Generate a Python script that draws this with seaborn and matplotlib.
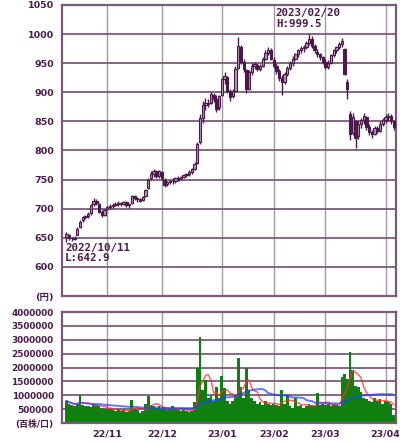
import numpy as np
import pandas as pd
import matplotlib
matplotlib.use("Agg")
import matplotlib.pyplot as plt
import seaborn as sns

sns.set_style("white")
plt.rcParams['font.family'] = ['DejaVu Sans', 'Noto Sans CJK JP']

# ---------------- data ----------------
holidays = ["2022-11-03", "2022-11-23", "2023-01-02", "2023-01-03",
            "2023-01-09", "2023-02-23", "2023-03-21"]
dates = pd.bdate_range("2022-10-11", "2023-04-06", freq="C", holidays=holidays)

opens = [652, 655, 649, 650, 655, 668, 680, 685, 688, 692, 708, 714, 708, 695, 690,
         699, 703, 705, 707, 708, 710, 708, 712, 706, 709, 721, 718, 716, 715, 721,
         735, 752, 760, 764, 756, 763, 750, 742, 746, 748, 747, 752, 751, 755, 758,
         760, 763, 768, 778, 815, 855, 878, 882, 882, 896, 888, 874, 895, 922, 926,
         902, 893, 903, 942, 978, 952, 938, 906, 935, 946, 947, 940, 945, 957, 968,
         973, 956, 946, 936, 925, 918, 932, 941, 950, 958, 965, 972, 976, 978, 985,
         992, 980, 970, 965, 960, 952, 944, 950, 964, 972, 977, 983, 975, 918, 862,
         830, 850, 825, 846, 852, 858, 840, 832, 828, 838, 834, 846, 852, 858, 860, 850]
highs = [660, 656, 652, 653, 668, 680, 688, 690, 694, 708, 718, 716, 709, 697, 700,
         705, 708, 710, 711, 713, 712, 714, 713, 710, 723, 724, 720, 719, 722, 734,
         752, 764, 768, 767, 766, 765, 752, 748, 750, 752, 754, 756, 757, 760, 762,
         766, 770, 780, 815, 862, 885, 890, 889, 900, 898, 895, 896, 925, 935, 928,
         905, 905, 945, 995, 982, 958, 940, 938, 950, 952, 950, 948, 960, 972, 978,
         976, 960, 950, 940, 930, 935, 945, 953, 962, 968, 975, 980, 982, 988, 999.5,
         996, 983, 975, 968, 963, 958, 955, 966, 975, 980, 986, 993, 976, 922, 868,
         865, 852, 850, 856, 864, 860, 845, 836, 842, 842, 850, 856, 862, 865, 862, 852]
lows = [642.9, 646, 645, 646, 654, 666, 677, 682, 684, 690, 704, 706, 692, 686, 688,
        697, 700, 702, 704, 705, 705, 706, 703, 702, 708, 715, 712, 711, 713, 720,
        733, 749, 755, 752, 753, 750, 738, 739, 742, 743, 745, 748, 749, 752, 754,
        757, 760, 766, 776, 812, 848, 870, 874, 880, 884, 866, 870, 893, 915, 898,
        885, 890, 900, 940, 948, 935, 898, 904, 930, 940, 936, 937, 943, 955, 964,
        955, 942, 932, 920, 896, 915, 928, 938, 946, 955, 960, 968, 970, 975, 982,
        976, 968, 960, 955, 948, 940, 940, 948, 960, 968, 974, 978, 930, 888, 818,
        826, 805, 820, 838, 846, 836, 826, 822, 826, 830, 832, 842, 848, 850, 846, 836]
closes = [657, 649, 650, 648, 665, 678, 686, 688, 691, 706, 714, 710, 695, 690, 698,
          703, 705, 707, 708, 710, 708, 712, 706, 708, 721, 718, 716, 714, 720, 732,
          750, 760, 764, 756, 764, 752, 741, 746, 748, 747, 752, 750, 755, 758, 760,
          763, 768, 776, 812, 855, 878, 882, 880, 897, 888, 872, 893, 922, 928, 903,
          892, 902, 940, 980, 952, 940, 905, 935, 946, 948, 940, 945, 957, 968, 973,
          958, 946, 936, 925, 918, 932, 941, 950, 958, 965, 972, 976, 978, 985, 992,
          980, 972, 965, 960, 952, 944, 950, 964, 972, 977, 983, 988, 932, 905, 828,
          858, 822, 846, 852, 860, 840, 832, 828, 838, 834, 846, 852, 858, 860, 850, 840]
volumes = [800000, 700000, 650000, 600000, 700000, 1000000, 650000, 600000, 620000, 580000,
           700000, 650000, 600000, 550000, 500000,
           520000, 500000, 480000, 450000, 500000, 420000, 460000, 400000, 450000, 830000,
           500000, 480000, 350000, 420000, 700000, 970000, 650000, 600000, 550000, 620000,
           500000, 550000, 480000, 500000, 620000, 520000, 480000, 450000, 500000, 420000,
           380000, 450000, 750000, 1980000, 3100000, 1200000, 1550000, 900000, 1000000, 800000,
           1300000, 900000,
           1700000, 1250000, 800000, 700000, 800000, 1000000, 2350000, 1300000, 900000, 2000000,
           1200000, 900000, 800000, 700000, 750000, 650000, 800000, 700000, 650000,
           700000, 650000, 600000, 1200000, 700000, 1000000, 600000, 550000, 900000, 600000,
           650000, 550000, 600000, 700000, 650000, 600000, 1080000, 650000, 700000,
           650000, 700000, 600000, 700000, 650000, 600000, 1650000, 1750000, 1600000, 2560000,
           1900000, 1350000, 1300000, 1100000, 900000, 850000, 800000, 750000, 900000, 800000,
           850000, 700000,
           800000, 750000, 700000, 300000]

month_labels = ["22/11", "22/12", "23/01", "23/02", "23/03", "23/04"]
price_ticks = [550, 600, 650, 700, 750, 800, 850, 900, 950, 1000, 1050]
price_tick_labels = ["(円)", "600", "650", "700", "750", "800", "850", "900", "950", "1000", "1050"]
vol_ticks = [0, 500000, 1000000, 1500000, 2000000, 2500000, 3000000, 3500000, 4000000]
vol_tick_labels = ["(百株/口)", "500000", "1000000", "1500000", "2000000", "2500000",
                   "3000000", "3500000", "4000000"]

df = pd.DataFrame({"date": dates, "open": opens, "high": highs, "low": lows,
                   "close": closes, "volume": volumes})
df["idx"] = np.arange(len(df))
df["ma5"] = df["volume"].rolling(5, min_periods=1).mean()
df["ma25"] = df["volume"].rolling(25, min_periods=1).mean()

# month start positions
month_pos = []
for lab in month_labels:
    y, m = lab.split("/")
    first = df[(df["date"].dt.year == 2000 + int(y)) & (df["date"].dt.month == int(m))]
    month_pos.append(int(first["idx"].iloc[0]))

# ---------------- style ----------------
PURPLE = "#7a5a7a"
TXT = "#4a1c4a"
VGRID = "#a39aa3"
CANDLE = "#4a1a4a"
UPFILL = "#b995b9"
GREEN = "#0f7f0f"

fig = plt.figure(figsize=(4.0, 4.45), dpi=100)
ax1 = fig.add_axes([0.155, 0.3348, 0.834, 0.654])
ax2 = fig.add_axes([0.155, 0.0494, 0.834, 0.2494])

for ax in (ax1, ax2):
    ax.set_facecolor("white")
    for s in ax.spines.values():
        s.set_color(PURPLE)
        s.set_linewidth(1.6)
    ax.set_xlim(-1.6, 120.7)
    ax.set_xticks(month_pos)
    for p in month_pos:
        ax.axvline(p, color=VGRID, lw=1.0, zorder=0)

# price panel
ax1.set_ylim(550, 1050)
for t in price_ticks[1:-1]:
    ax1.axhline(t, color=PURPLE, lw=1.3, zorder=0)

up = df[df["close"] >= df["open"]]
dn = df[df["close"] < df["open"]]
ax1.vlines(df["idx"], df["low"], df["high"], color=CANDLE, lw=1.0, zorder=2)
ax1.bar(up["idx"], (up["close"] - up["open"]).clip(lower=1.5), bottom=up["open"],
        width=0.85, facecolor=UPFILL, edgecolor=CANDLE, linewidth=0.8, zorder=3)
ax1.bar(dn["idx"], (dn["close"] - dn["open"]).abs(), bottom=dn["close"],
        width=0.85, facecolor=CANDLE, edgecolor=CANDLE, linewidth=0.8, zorder=3)

ax1.set_yticks(price_ticks)
ax1.set_yticklabels(price_tick_labels)
ax1.tick_params(axis="y", length=4, width=1.3, color=PURPLE, labelcolor=TXT,
                labelsize=6.8, pad=2)
ax1.tick_params(axis="x", length=0, labelbottom=False)
for lbl in ax1.get_yticklabels():
    lbl.set_fontweight("bold")
ax1.set_xlabel("")
ax1.set_ylabel("")

ax1.text(0.641, 0.988, "2023/02/20\nH:999.5", transform=ax1.transAxes,
         ha="left", va="top", fontsize=7.8, family="DejaVu Sans Mono",
         fontweight="bold", color=TXT, linespacing=1.05)
ax1.text(0.009, 0.182, "2022/10/11\nL:642.9", transform=ax1.transAxes,
         ha="left", va="top", fontsize=7.8, family="DejaVu Sans Mono",
         fontweight="bold", color=TXT, linespacing=1.05)

# volume panel
ax2.set_ylim(0, 4000000)
for t in vol_ticks[1:-1]:
    ax2.axhline(t, color=PURPLE, lw=1.3, zorder=0)
sns.barplot(data=df, x="idx", y="volume", native_scale=True, width=1.0,
            color=GREEN, saturation=1, linewidth=0, ax=ax2, zorder=2)
sns.lineplot(data=df, x="idx", y="ma5", color="#ff3030", lw=1.1, alpha=0.75,
             ax=ax2, zorder=4)
sns.lineplot(data=df, x="idx", y="ma25", color="#2040ff", lw=1.4, alpha=0.7,
             ax=ax2, zorder=4)
ax2.set_xlim(-1.6, 120.7)
ax2.set_ylim(0, 4000000)
ax2.set_xticks(month_pos)
ax2.set_xticklabels(month_labels)
ax2.set_yticks(vol_ticks)
ax2.set_yticklabels(vol_tick_labels)
ax2.tick_params(axis="y", length=4, width=1.3, color=PURPLE, labelcolor=TXT,
                labelsize=6.4, pad=2)
ax2.tick_params(axis="x", length=0, labelcolor=TXT, labelsize=6.8, pad=5)
for lbl in ax2.get_yticklabels() + ax2.get_xticklabels():
    lbl.set_fontweight("bold")
ax2.set_xlabel("")
ax2.set_ylabel("")

fig.savefig("out.png", dpi=100, facecolor="white")
